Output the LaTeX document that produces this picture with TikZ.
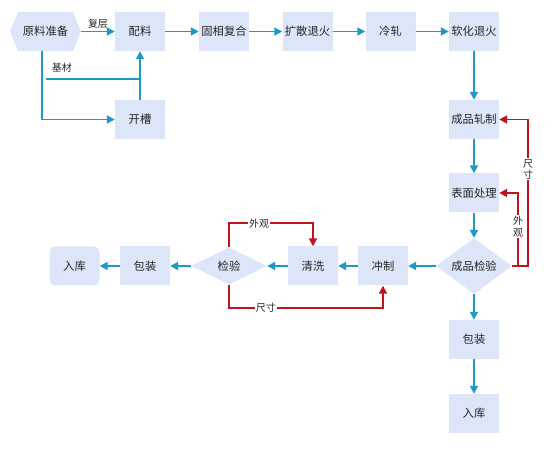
\documentclass[tikz,border=0pt]{standalone}
\usepackage{fontspec}
\setmainfont{Noto Sans CJK SC}
\usetikzlibrary{arrows.meta,shapes.geometric}
\definecolor{boxfill}{HTML}{DCE6F8}
\definecolor{flowblue}{HTML}{1E98C8}
\definecolor{backred}{HTML}{C0141C}
\tikzset{
  x=1pt,y=-1pt,
  every node/.style={font=\fontsize{11.3}{13}\selectfont, text=black!85},
  procbox/.style={fill=boxfill, minimum width=50pt, minimum height=39pt, inner sep=0pt},
  endbox/.style={procbox, rounded corners=6pt},
  checkdia/.style={diamond, fill=boxfill, minimum width=76pt, minimum height=37pt, inner sep=0pt},
  flow/.style={draw=flowblue, line width=1.8pt, -{Triangle[length=8pt,width=8pt]}},
  flowline/.style={draw=flowblue, line width=1.8pt},
  back/.style={draw=backred, line width=1.8pt, -{Triangle[length=8pt,width=8pt]}},
  lbl/.style={font=\fontsize{10}{11}\selectfont, fill=white, inner sep=1pt},
  vlbl/.style={lbl, align=center, font=\fontsize{10}{11.5}\selectfont}
}
\begin{document}
\begin{tikzpicture}
\useasboundingbox (0,0) rectangle (550,449);
% hexagon start node
\fill[boxfill] (10,31.5) -- (18,12) -- (73,12) -- (81,31.5) -- (73,51) -- (18,51) -- cycle;
\node[inner sep=0pt, minimum width=71pt, minimum height=39pt] (yl) at (45.5,31.5) {原料准备};
% top row
\node[procbox] (pl) at (140,31.5) {配料};
\node[procbox] (gx) at (224,31.5) {固相复合};
\node[procbox] (ks) at (307.5,31.5) {扩散退火};
\node[procbox] (lz) at (390.5,31.5) {冷轧};
\node[procbox] (rh) at (474,31.5) {软化退火};
\node[procbox] (kc) at (140,119.5) {开槽};
% right column
\node[procbox] (cz) at (474,119.5) {成品轧制};
\node[procbox] (bm) at (474,193) {表面处理};
\node[checkdia] (cj) at (474,266) {成品检验};
\node[procbox] (bzr) at (474,339.5) {包装};
\node[procbox] (rkr) at (474,413.5) {入库};
% bottom row
\node[procbox] (cjz) at (383,266) {冲制};
\node[procbox] (qx) at (313,266) {清洗};
\node[checkdia] (jy) at (229,266) {检验};
\node[procbox] (bzl) at (145,266) {包装};
\node[endbox] (rkl) at (74.5,266) {入库};
% coordinates
\coordinate (ylb) at (42,51);
\coordinate (jcL) at (46,79);
\coordinate (jcR) at (140,79);
% top flow
\draw[flow] (yl.east) -- node[lbl, above=1pt, fill=none] {复层} (pl.west);
\draw[flow] (pl) -- (gx);
\draw[flow] (gx) -- (ks);
\draw[flow] (ks) -- (lz);
\draw[flow] (lz) -- (rh);
\draw[flow] (ylb) |- (kc.west);
\draw[flowline] (jcL) -- (jcR);
\node[lbl, fill=none] (jc) at (62,67.5) {基材};
\draw[flow] (kc.north) -- (pl.south);
% right column flow
\draw[flow] (rh) -- (cz);
\draw[flow] (cz) -- (bm);
\draw[flow] (bm) -- (cj);
\draw[flow] (cj) -- (bzr);
\draw[flow] (bzr) -- (rkr);
% bottom flow
\draw[flow] (cj.west) -- (cjz.east);
\draw[flow] (cjz) -- (qx);
\draw[flow] (qx.west) -- (jy.east);
\draw[flow] (jy.west) -- (bzl.east);
\draw[flow] (bzl) -- (rkl);
% red feedback right
\draw[back] (cj.east) -- ++(16,0) |- node[vlbl, pos=0.33] {尺\\寸} (cz.east);
\draw[back] (cj.east) -- ++(6,0) |- node[vlbl, pos=0.27] {外\\观} (bm.east);
% red feedback bottom
\draw[back] (jy.north) |- node[lbl, pos=0.68] {外观} ++(84,-24) -- (qx.north);
\draw[back] (jy.south) |- node[lbl, pos=0.62] {尺寸} ++(154,23) -- (cjz.south);
\end{tikzpicture}
\end{document}
